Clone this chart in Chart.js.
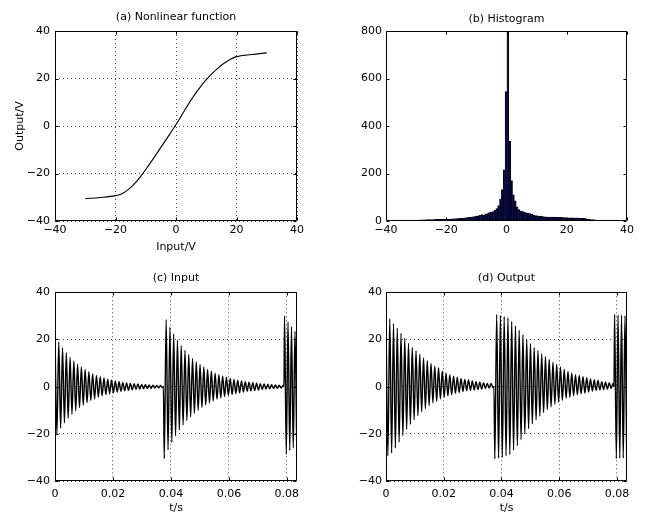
<!DOCTYPE html>
<html>
<head>
<meta charset="utf-8">
<script src="https://cdn.jsdelivr.net/npm/chart.js@4.4.1/dist/chart.umd.min.js"></script>
<style>
  html, body { margin: 0; padding: 0; background: #fff; overflow: hidden; }
  #wrap { position: relative; width: 645px; height: 513px; }
  canvas { position: absolute; }
</style>
</head>
<body>
<div id="wrap">
  <canvas id="funcChart" width="322" height="256" style="left:0;top:0"></canvas>
  <canvas id="histChart" width="323" height="256" style="left:322px;top:0"></canvas>
  <canvas id="inputChart" width="322" height="257" style="left:0;top:256px"></canvas>
  <canvas id="outputChart" width="323" height="257" style="left:322px;top:256px"></canvas>
</div>
<script>
// (a) 非線形関数
const funcInput = [-30, -25, -20, -18, -16, -14, -12, -10, -8, -6, -4, -2, 0, 2, 4, 6, 8, 10, 12, 14, 16, 18, 20, 25, 30];
const funcOutput = [-30.6, -30.1, -29.3, -28.6, -27.0, -24.7, -21.7, -18.3, -14.7, -10.9, -7.1, -3.3, 0.6, 4.8, 9.0, 12.9, 16.4, 19.5, 22.2, 24.5, 26.5, 28.1, 29.2, 30.1, 30.8];

// (b) ヒストグラム (100ビン)
const histLo = -30.6;
const histHi = 30.9;
const histCounts = [
  3, 4, 4, 5, 5, 5, 6, 6, 6, 6,
  6, 7, 7, 7, 7, 7, 8, 8, 8, 8,
  9, 9, 10, 10, 11, 11, 12, 13, 14, 15,
  16, 18, 19, 21, 22, 24, 27, 25, 29, 31,
  35, 38, 40, 46, 52, 65, 92, 132, 215, 545,
  1100, 335, 170, 110, 85, 60, 48, 42, 40, 38,
  34, 33, 31, 29, 24, 23, 22, 21, 21, 19,
  18, 17, 17, 17, 16, 16, 16, 15, 15, 15,
  14, 14, 13, 13, 13, 13, 12, 13, 12, 12,
  11, 11, 10, 8, 7, 6, 6, 5, 4, 2
];

// (c)(d) 時間波形: バーストごとの極値 (半周期ごと)
const burstStart = [0, 0.0377, 0.0792];
const burstStep = [0.00065, 0.00065, 0.0006];
const quietTimes = [0.0374, 0.079];

const inBurst1 = [
  21.0, -20.2, 18.9, -17.6, 16.5, -15.4, 14.4, -13.4, 12.5, -11.7,
  10.9, -10.2, 9.5, -8.9, 8.3, -7.8, 7.3, -6.8, 6.3, -5.9,
  5.5, -5.2, 4.8, -4.5, 4.2, -3.9, 3.7, -3.4, 3.2, -3.0,
  2.8, -2.6, 2.4, -2.3, 2.1, -2.0, 1.8, -1.7, 1.6, -1.5,
  1.4, -1.3, 1.2, -1.1, 1.1, -1.0, 0.9, -0.9, 0.8, -0.8,
  0.7, -0.7, 0.6, -0.6, 0.5, -0.5, 0.5, -0.4
];
const inBurst2 = [
  -30.5, 28.5, -26.8, 25.2, -23.7, 22.3, -20.9, 19.7, -18.5, 17.4,
  -16.3, 15.4, -14.4, 13.6, -12.8, 12.0, -11.3, 10.6, -10.0, 9.4,
  -8.8, 8.3, -7.8, 7.3, -6.9, 6.5, -6.1, 5.7, -5.4, 5.1,
  -4.8, 4.5, -4.2, 4.0, -3.7, 3.5, -3.3, 3.1, -2.9, 2.7,
  -2.6, 2.4, -2.3, 2.1, -2.0, 1.9, -1.8, 1.7, -1.6, 1.5,
  -1.4, 1.3, -1.2, 1.1, -1.0, 1.0, -0.9, 0.8, -0.8, 0.7,
  -0.7, 0.6, -0.6, 0.5
];
const inBurst3 = [30.0, -28.6, 27.5, -27.0, 25.5, -26.0, 23.5, -24.5];

const outBurst1 = [
  29.6, -29.3, 28.8, -28.1, 26.8, -26.0, 24.8, -23.5, 22.6, -20.8,
  20.5, -18.1, 18.4, -16.0, 16.6, -14.1, 15.2, -12.3, 13.7, -10.6,
  12.3, -9.3, 11.0, -8.0, 9.8, -6.8, 8.7, -6.2, 8.0, -5.2,
  6.7, -4.5, 5.8, -3.9, 5.1, -3.4, 4.4, -2.8, 4.0, -2.5,
  3.5, -2.1, 3.1, -1.7, 2.8, -1.6, 2.4, -1.4, 2.1, -1.2,
  1.9, -1.0, 1.7, -0.8, 1.4, -0.6, 1.4, -0.4
];
const outBurst2 = [
  -30.6, 30.6, -30.3, 30.2, -29.9, 29.8, -29.4, 29.2, -28.7, 27.7,
  -26.9, 25.7, -25.0, 23.9, -22.5, 22.0, -20.1, 20.0, -17.8, 18.3,
  -15.8, 16.6, -14.1, 15.2, -12.5, 14.0, -11.0, 12.7, -9.7, 11.5,
  -8.5, 10.4, -7.4, 9.4, -6.5, 8.3, -5.8, 7.4, -5.0, 6.5,
  -4.5, 5.8, -3.9, 5.1, -3.4, 4.7, -3.0, 4.2, -2.7, 3.8,
  -2.3, 3.3, -1.9, 2.8, -1.6, 2.6, -1.4, 2.1, -1.2, 1.9,
  -1.0, 1.7, -0.8, 1.4
];
const outBurst3 = [30.7, -30.5, 30.5, -30.4, 30.4, -30.3, 30.1, -30.2];

// 目盛
const voltTicks = [-40, -20, 0, 20, 40];
const countTicks = [0, 200, 400, 600, 800];
const timeTicks = [0, 0.02, 0.04, 0.06, 0.08];
const timeMax = 0.0835;

const FONT = "'DejaVu Sans', sans-serif";

// MATLAB風の枠と内向き目盛
const matlabBox = {
  id: "matlabBox",
  afterDraw(chart) {
    const { ctx, chartArea: a, scales } = chart;
    const L = Math.round(a.left) + 0.5, R = Math.round(a.right) - 0.5;
    const T = Math.round(a.top) + 0.5, B = Math.round(a.bottom) - 0.5;
    ctx.save();
    ctx.strokeStyle = "#000";
    ctx.lineWidth = 1;
    ctx.beginPath();
    scales.x.ticks.forEach((t) => {
      const px = Math.round(scales.x.getPixelForValue(t.value)) + 0.5;
      ctx.moveTo(px, B); ctx.lineTo(px, B - 3);
      ctx.moveTo(px, T); ctx.lineTo(px, T + 3);
    });
    scales.y.ticks.forEach((t) => {
      const py = Math.round(scales.y.getPixelForValue(t.value)) + 0.5;
      ctx.moveTo(L, py); ctx.lineTo(L + 3, py);
      ctx.moveTo(R, py); ctx.lineTo(R - 3, py);
    });
    ctx.rect(L, T, R - L, B - T);
    ctx.stroke();
    ctx.restore();
  },
};

function minusLabel(v) {
  return String(v).replace("-", "\u2212");
}

// 軸の設定 (幅・高さは固定してプロット領域を揃える)
function makeAxis(tickList, min, max, opt) {
  return {
    type: "linear",
    min: min,
    max: max,
    offset: false,
    afterBuildTicks: (scale) => {
      scale.ticks = tickList.map((v) => ({ value: v }));
    },
    afterFit: (scale) => {
      if (opt.width !== undefined) scale.width = opt.width;
      if (opt.height !== undefined) scale.height = opt.height;
    },
    grid: {
      display: opt.grid,
      drawTicks: false,
      color: "rgba(0,0,0,0.7)",
      lineWidth: 1,
      offset: false,
    },
    border: { display: false, dash: [1, 3] },
    ticks: {
      color: "#000",
      font: { family: FONT, size: 11 },
      padding: opt.tickPad,
      autoSkip: false,
      maxRotation: 0,
      callback: minusLabel,
    },
    title: opt.title
      ? {
          display: true,
          text: opt.title,
          color: "#000",
          font: { family: FONT, size: 11 },
          padding: opt.titlePad,
        }
      : { display: false },
  };
}

function baseOptions(titleText, titlePad, padRight) {
  return {
    responsive: false,
    animation: false,
    devicePixelRatio: 1,
    layout: { padding: { left: 0, right: padRight, top: 0, bottom: 0 } },
    plugins: {
      legend: { display: false },
      tooltip: { enabled: false },
      title: {
        display: true,
        fullSize: false, // プロット領域の中央に置く
        text: titleText,
        color: "#000",
        font: { family: FONT, size: 11, weight: "normal" },
        padding: titlePad,
      },
    },
  };
}

// 時間波形の点列を作る
function waveformPoints(bursts) {
  const pts = [];
  bursts.forEach((vals, b) => {
    vals.forEach((v, k) => pts.push({ x: burstStart[b] + k * burstStep[b], y: v }));
    if (b < quietTimes.length) pts.push({ x: quietTimes[b], y: 0 });
  });
  return pts;
}

function lineDataset(points, width) {
  return {
    data: points,
    borderColor: "#000",
    borderWidth: width,
    pointRadius: 0,
    fill: false,
    cubicInterpolationMode: "monotone",
    clip: 0,
  };
}

window.addEventListener("DOMContentLoaded", () => {
  // (a)
  const funcOpt = baseOptions("(a) Nonlinear function", { top: 10.6, bottom: 7.2 }, 25);
  funcOpt.scales = {
    x: makeAxis(voltTicks, -40, 40, { height: 35, grid: true, tickPad: 2.4, title: "Input/V", titlePad: { top: 0, bottom: 2.7 } }),
    y: makeAxis(voltTicks, -40, 40, { width: 55, grid: true, tickPad: 5, title: "Output/V", titlePad: { top: 13.4, bottom: 0 } }),
  };
  new Chart(document.getElementById("funcChart"), {
    type: "line",
    data: { datasets: [lineDataset(funcInput.map((x, i) => ({ x: x, y: funcOutput[i] })), 1.1)] },
    options: funcOpt,
    plugins: [matlabBox],
  });

  // (b)
  const binWidth = (histHi - histLo) / histCounts.length;
  const histPoints = histCounts.map((c, i) => ({ x: histLo + (i + 0.5) * binWidth, y: c }));
  const histOpt = baseOptions("(b) Histogram", { top: 12.9, bottom: 4.9 }, 18);
  histOpt.scales = {
    x: makeAxis(voltTicks, -40, 40, { height: 35, grid: false, tickPad: 2.4 }),
    y: makeAxis(countTicks, 0, 800, { width: 64, grid: false, tickPad: 4 }),
  };
  new Chart(document.getElementById("histChart"), {
    type: "bar",
    data: {
      datasets: [
        {
          data: histPoints,
          backgroundColor: "#00004f",
          borderColor: "#000",
          borderWidth: 0.7,
          barPercentage: 1,
          categoryPercentage: 1,
          clip: 0,
        },
      ],
    },
    options: histOpt,
    plugins: [matlabBox],
  });

  // (c)
  const inOpt = baseOptions("(c) Input", { top: 15.4, bottom: 7.7 }, 25);
  inOpt.scales = {
    x: makeAxis(timeTicks, 0, timeMax, { height: 32, grid: true, tickPad: 6.4, title: "t/s", titlePad: { top: 0, bottom: -1.9 } }),
    y: makeAxis(voltTicks, -40, 40, { width: 55, grid: true, tickPad: 5 }),
  };
  new Chart(document.getElementById("inputChart"), {
    type: "line",
    data: { datasets: [lineDataset(waveformPoints([inBurst1, inBurst2, inBurst3]), 1.4)] },
    options: inOpt,
    plugins: [matlabBox],
  });

  // (d)
  const outOpt = baseOptions("(d) Output", { top: 15.4, bottom: 7.7 }, 18);
  outOpt.scales = {
    x: makeAxis(timeTicks, 0, timeMax, { height: 32, grid: true, tickPad: 6.4, title: "t/s", titlePad: { top: 0, bottom: -1.9 } }),
    y: makeAxis(voltTicks, -40, 40, { width: 64, grid: true, tickPad: 4 }),
  };
  new Chart(document.getElementById("outputChart"), {
    type: "line",
    data: { datasets: [lineDataset(waveformPoints([outBurst1, outBurst2, outBurst3]), 1.4)] },
    options: outOpt,
    plugins: [matlabBox],
  });
});
</script>
</body>
</html>
